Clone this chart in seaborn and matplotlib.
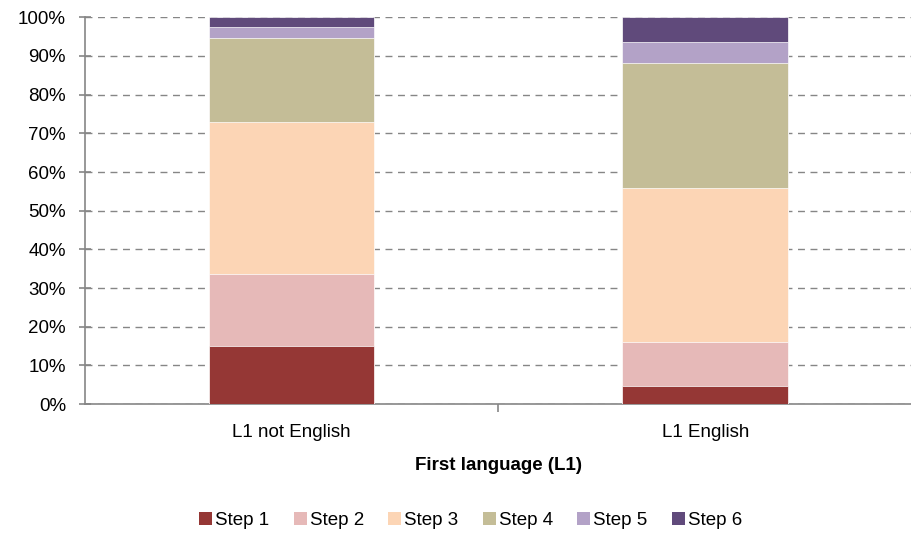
import matplotlib
matplotlib.use("Agg")
import matplotlib.pyplot as plt
from matplotlib.patches import Patch
from matplotlib.ticker import PercentFormatter, FixedLocator
import seaborn as sns
import numpy as np
import pandas as pd

groups = ["L1 not English", "L1 English"]
steps = ["Step 1", "Step 2", "Step 3", "Step 4", "Step 5", "Step 6"]
# share of each step (%) per group
step1 = [15.1, 4.8]
step2 = [18.6, 11.3]
step3 = [39.3, 39.9]
step4 = [21.7, 32.1]
step5 = [2.7, 5.6]
step6 = [2.6, 6.3]
colors = ["#953735", "#E6B9B8", "#FCD5B5", "#C4BD97", "#B3A2C7", "#604A7B"]

sns.set_style("white")
plt.rcParams["font.family"] = ["Liberation Sans", "DejaVu Sans"]
plt.rcParams["text.color"] = "black"

vals = np.array([step1, step2, step3, step4, step5, step6])
cum = np.cumsum(vals, axis=0)
cum = cum / cum[-1] * 100

fig = plt.figure(figsize=(9.12, 5.41), dpi=100)
ax = fig.add_axes([0.093, 0.253, 0.907, 0.715])

# draw cumulative totals from the top step down so each lower step overlays
for i in range(len(steps) - 1, -1, -1):
    df = pd.DataFrame({"group": groups, "value": cum[i]})
    sns.barplot(data=df, x="group", y="value", order=groups, color=colors[i],
                saturation=1, width=0.4, ax=ax, zorder=3, errorbar=None,
                edgecolor="white", linewidth=0.5)

ax.set_xlim(-0.5, 1.5)
ax.set_ylim(0, 100)
ax.yaxis.set_major_locator(FixedLocator(np.arange(0, 101, 10)))
ax.yaxis.set_major_formatter(PercentFormatter(decimals=0))
ax.grid(axis="y", color="#868686", linestyle=(0, (5, 4)), linewidth=1, zorder=0)
ax.set_axisbelow(True)

for s in ["top", "right"]:
    ax.spines[s].set_visible(False)
for s in ["left", "bottom"]:
    ax.spines[s].set_color("#868686")
    ax.spines[s].set_linewidth(1.2)

ax.tick_params(axis="y", left=True, direction="inout", length=9,
               color="#868686", width=1.2, labelsize=13.5, pad=9,
               labelcolor="black")
ax.tick_params(axis="x", length=0, labelsize=13.5, pad=14, labelcolor="black")
ax.set_xticks([0.5], minor=True)
ax.tick_params(axis="x", which="minor", bottom=True, direction="out",
               length=6, width=1.2, color="#868686")

ax.set_ylabel("")
ax.set_xlabel("First language (L1)", fontsize=13.5, fontweight="bold",
              labelpad=12, color="black")

handles = [Patch(facecolor=c, edgecolor="none", label=s)
           for c, s in zip(colors, steps)]
fig.legend(handles=handles, loc="center", bbox_to_anchor=(0.516, 0.038), ncol=6,
           frameon=False, fontsize=13.5, handlelength=0.7, handleheight=0.7,
           handletextpad=0.15, columnspacing=1.3)

fig.savefig("out.png", dpi=100)
